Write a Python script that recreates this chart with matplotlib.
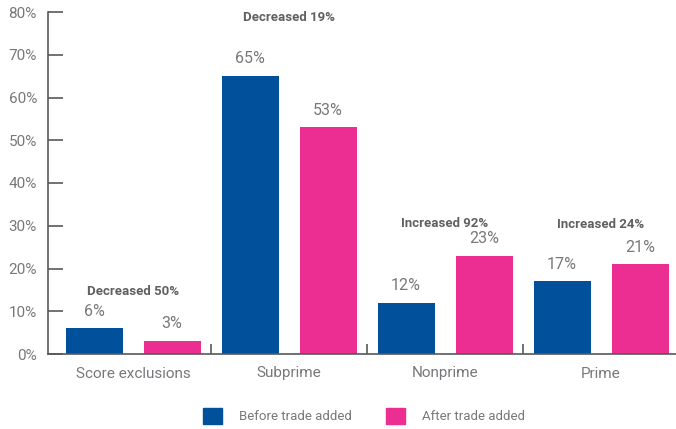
import matplotlib
matplotlib.use("Agg")
import matplotlib.pyplot as plt
from matplotlib.patches import Patch
import numpy as np

plt.rcParams['font.family'] = ['Roboto', 'DejaVu Sans']

categories = ["Score exclusions", "Subprime", "Nonprime", "Prime"]
before = [6, 65, 12, 17]
after = [3, 53, 23, 21]
changes = ["Decreased 50%", "Decreased 19%", "Increased 92%", "Increased 24%"]
change_y = [14.7, 78.6, 30.6, 30.4]
series_names = ["Before trade added", "After trade added"]
y_ticks = [0, 10, 20, 30, 40, 50, 60, 70, 80]

BLUE = "#00509b"
PINK = "#ec2d91"
AXIS = "#58595b"
LABEL = "#77787b"
BOLD = "#5f6063"

fig = plt.figure(figsize=(6.76, 4.29), dpi=100)
ax = fig.add_axes([48 / 676, 75 / 429, 1 - 48 / 676, (354 - 12) / 429])

x = np.arange(len(categories))
w = 0.365
off = 0.25
b1 = ax.bar(x - off, before, w, color=BLUE)
b2 = ax.bar(x + off, after, w, color=PINK)

for bars, vals in ((b1, before), (b2, after)):
    for r, v in zip(bars, vals):
        ax.annotate(f"{v}%", (r.get_x() + r.get_width() / 2, v),
                    xytext=(0, 7), textcoords="offset points",
                    ha="center", va="bottom", fontsize=11.5, color=LABEL)

for xi, txt, yy in zip(x, changes, change_y):
    ax.text(xi, yy, txt, ha="center", va="center", fontsize=9.5,
            fontweight="bold", color=BOLD)

ax.set_ylim(0, 80)
ax.set_xlim(-0.545, 3.48)
ax.set_yticks(y_ticks)
ax.set_yticklabels([f"{t}%" for t in y_ticks])
ax.tick_params(axis="y", direction="in", length=11, width=1.2, color=AXIS,
               labelsize=11, labelcolor=LABEL, pad=8)

ax.set_xticks([0.5, 1.5, 2.5])
ax.set_xticklabels([])
ax.tick_params(axis="x", which="major", direction="in", length=7, width=1.2, color=AXIS)
ax.set_xticks(x, minor=True)
ax.set_xticklabels(categories, minor=True)
ax.tick_params(axis="x", which="minor", length=0, labelsize=11, labelcolor=LABEL, pad=9)

for s in ("top", "right"):
    ax.spines[s].set_visible(False)
for s in ("left", "bottom"):
    ax.spines[s].set_color(AXIS)
    ax.spines[s].set_linewidth(1.2)

handles = [Patch(color=BLUE), Patch(color=PINK)]
fig.legend(handles, series_names, loc="center", bbox_to_anchor=(364 / 676, 1 - 416 / 429),
           ncol=2, frameon=False, fontsize=9.5, labelcolor=LABEL,
           handlelength=1.4, handleheight=1.4, handletextpad=1.3, columnspacing=2.6)

fig.savefig("out.png", dpi=100)
